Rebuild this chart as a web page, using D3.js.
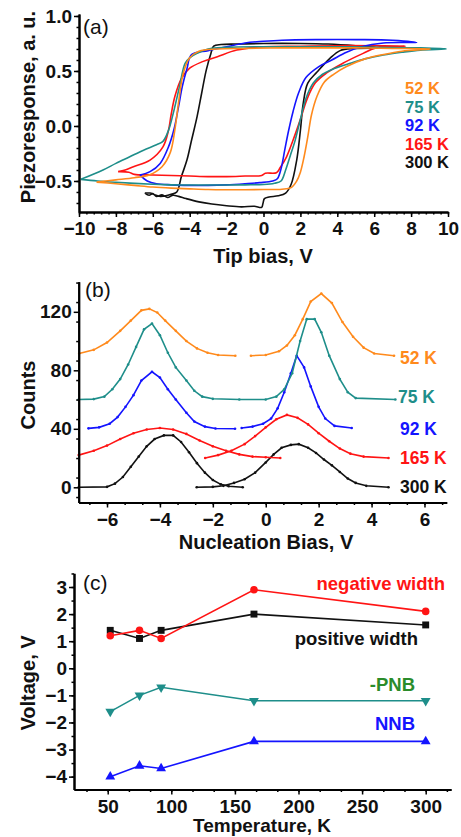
<!DOCTYPE html>
<html>
<head>
<meta charset="utf-8">
<script src="https://cdn.jsdelivr.net/npm/d3@7"></script>
<style>
body { margin: 0; background: #fff; }
text { font-family: "Liberation Sans", Arial, sans-serif; }
</style>
</head>
<body>
<div id="canvas"></div>
<script>
// ---- panel (a): hysteresis loops, [bias V, piezoresponse], sweep up then back ----
var loop52 = [[-9.05,-0.51],[-8,-0.525],[-7,-0.54],[-6,-0.555],[-5,-0.565],[-4,-0.572],[-3,-0.578],[-2,-0.58],[-1,-0.58],[0,-0.578],[1,-0.575],[1.5,-0.56],[1.8,-0.5],[2.0,-0.42],[2.2,-0.28],[2.4,-0.1],[2.6,0.1],[2.9,0.27],[3.3,0.4],[3.8,0.47],[4.5,0.54],[5.5,0.61],[6.5,0.65],[7.5,0.68],[9.05,0.70],
  [7,0.705],[5,0.71],[3,0.71],[1,0.71],[-1,0.705],[-2.5,0.70],[-3.5,0.68],[-4.0,0.62],[-4.35,0.48],[-4.6,0.22],[-4.8,-0.03],[-5.05,-0.24],[-5.5,-0.37],[-6.2,-0.445],[-7,-0.47],[-8,-0.49],[-9.05,-0.51]];
var loop75 = [[-9.9,-0.485],[-9,-0.5],[-8,-0.512],[-7,-0.522],[-6,-0.53],[-5,-0.535],[-4,-0.537],[-3,-0.537],[-2,-0.537],[-1,-0.535],[0,-0.532],[0.6,-0.52],[0.95,-0.5],[1.2,-0.4],[1.45,-0.27],[1.7,-0.14],[2.0,0.06],[2.3,0.25],[2.7,0.39],[3.2,0.47],[3.8,0.52],[4.7,0.57],[5.5,0.61],[6.5,0.645],[7.5,0.67],[8.5,0.69],[9.9,0.70],
  [8.5,0.71],[6,0.715],[4,0.72],[2,0.72],[0,0.72],[-2,0.715],[-3,0.7],[-3.6,0.66],[-4.0,0.62],[-4.25,0.57],[-4.55,0.36],[-4.9,0.11],[-5.15,-0.04],[-5.45,-0.14],[-5.8,-0.17],[-6.5,-0.22],[-7.25,-0.28],[-8,-0.34],[-8.7,-0.4],[-9.9,-0.485]];
var loop92 = [[-6.7,-0.445],[-6.3,-0.5],[-5.8,-0.525],[-5,-0.535],[-4,-0.54],[-3,-0.54],[-2,-0.535],[-1,-0.525],[-0.2,-0.515],[0.5,-0.5],[0.75,-0.48],[0.95,-0.39],[1.15,-0.22],[1.35,-0.05],[1.6,0.13],[1.9,0.3],[2.3,0.44],[3.0,0.54],[3.7,0.6],[4.5,0.67],[5.3,0.72],[6.5,0.755],[8.3,0.76],
  [7,0.78],[5,0.785],[3,0.785],[1,0.78],[0,0.77],[-1,0.755],[-2,0.72],[-3,0.685],[-3.9,0.65],[-4.15,0.52],[-4.4,0.36],[-4.6,0.18],[-4.85,-0.03],[-5.15,-0.19],[-5.6,-0.34],[-6.15,-0.415],[-6.7,-0.445]];
var loop165 = [[-7.88,-0.415],[-7.3,-0.42],[-7.0,-0.44],[-6,-0.445],[-5,-0.45],[-4,-0.455],[-3,-0.46],[-2,-0.46],[-1,-0.455],[-0.1,-0.45],[0.1,-0.43],[0.7,-0.425],[0.9,-0.38],[1.25,-0.28],[1.6,-0.13],[2.0,0.06],[2.35,0.24],[2.8,0.39],[3.4,0.48],[4.3,0.57],[5.4,0.66],[6.1,0.71],[7.68,0.727],
  [6,0.73],[4,0.73],[2,0.725],[0,0.72],[-1.45,0.69],[-2.5,0.63],[-3.3,0.585],[-4.0,0.525],[-4.45,0.43],[-4.8,0.27],[-5.0,0.11],[-5.15,-0.04],[-5.45,-0.19],[-6.15,-0.31],[-7.05,-0.37],[-7.5,-0.4],[-7.88,-0.415]];
var loop300 = [[-6.43,-0.61],[-6.2,-0.63],[-6.0,-0.615],[-5.8,-0.64],[-5.5,-0.625],[-5.2,-0.65],[-4.9,-0.63],[-4.6,-0.64],[-4.2,-0.66],[-3.5,-0.69],[-2.8,-0.71],[-2,-0.725],[-1.2,-0.735],[-0.5,-0.73],[-0.1,-0.74],[-0.03,-0.705],[0.05,-0.66],[0.3,-0.645],[0.8,-0.635],[1.2,-0.61],[1.5,-0.53],[1.8,-0.31],[2.0,-0.04],[2.15,0.2],[2.4,0.39],[2.9,0.49],[3.6,0.615],[4.15,0.685],[4.9,0.705],[6.4,0.71],
  [5,0.73],[3.5,0.745],[2,0.75],[0,0.75],[-1.5,0.745],[-2.3,0.74],[-2.7,0.725],[-2.85,0.66],[-3.1,0.51],[-3.35,0.3],[-3.6,0.085],[-3.9,-0.13],[-4.15,-0.31],[-4.45,-0.46],[-4.7,-0.6],[-5.0,-0.62],[-5.3,-0.635],[-5.6,-0.64],[-5.9,-0.625],[-6.15,-0.61],[-6.43,-0.61]];

// ---- panel (b): nucleation bias histograms, [bias V, counts] ----
var hist52Neg = [[-7.05,91.5],[-6.5,94],[-6.0,99],[-5.5,107],[-5.1,114],[-4.7,121],[-4.4,122],[-4.1,119.5],[-3.8,114],[-3.4,107],[-3.0,100],[-2.6,95],[-2.2,92],[-1.8,90.5],[-1.15,90]];
var hist52Pos = [[-0.56,90],[0.0,90.5],[0.5,93],[0.8,97],[1.1,104],[1.4,115],[1.7,127],[2.1,132.5],[2.5,126],[2.9,113],[3.3,103],[3.7,95.5],[4.1,91.5],[4.85,90]];
var hist75 = [[-7.07,60],[-6.5,60.3],[-6.1,62],[-5.8,67],[-5.5,74],[-5.2,84],[-4.9,96],[-4.6,108],[-4.3,112],[-4.0,104],[-3.7,92],[-3.4,82],[-3.0,73],[-2.7,66],[-2.4,62],[-2.0,60.5],[-1.0,60],[0.0,60],[0.4,62],[0.7,67],[1.0,78],[1.3,100],[1.55,115],[1.85,115],[2.1,106],[2.4,90],[2.8,74],[3.1,65],[3.4,61],[4.9,60]];
var hist92Neg = [[-6.7,40.3],[-6.3,41],[-5.9,43.5],[-5.6,48],[-5.3,55],[-5.0,63],[-4.7,73],[-4.3,79],[-4.0,75],[-3.7,67],[-3.4,60],[-3.0,51],[-2.7,45],[-2.3,41.5],[-1.9,40.2],[-1.16,40]];
var hist92Pos = [[-0.91,40.5],[-0.5,41.5],[-0.1,43.5],[0.2,47],[0.45,54],[0.7,65],[0.95,78],[1.17,90],[1.45,82],[1.7,69],[2.0,55],[2.25,47],[2.6,42],[3.25,40.5]];
var hist165Neg = [[-7.07,22],[-6.5,25],[-6.0,28.5],[-5.5,33],[-5.0,37],[-4.5,39.5],[-4.0,40.5],[-3.5,39.5],[-3.0,36.5],[-2.5,32],[-2.0,28],[-1.5,25],[-1.0,22.5],[-0.5,21],[0.0,20.5],[0.55,20]];
var hist165Pos = [[-2.29,20],[-1.8,22],[-1.3,25],[-0.8,29.5],[-0.4,35],[0.0,41],[0.4,46.5],[0.8,49.5],[1.2,47.5],[1.6,43],[2.0,37],[2.4,31.5],[2.8,26.5],[3.2,23],[3.7,21],[4.64,20]];
var hist300Neg = [[-7.07,0],[-6.0,0.3],[-5.7,2.5],[-5.4,7],[-5.1,14],[-4.8,21],[-4.5,28],[-4.2,33],[-3.85,35.5],[-3.5,35.5],[-3.2,31],[-2.9,24],[-2.6,16.5],[-2.3,10],[-2.0,5],[-1.7,2],[-1.4,0.7],[-0.87,0]];
var hist300Pos = [[-2.61,0],[-2.0,0.3],[-1.6,1],[-1.2,3],[-0.8,5.5],[-0.4,10],[0.0,17],[0.3,22.5],[0.6,27],[0.95,29],[1.25,29.5],[1.6,27],[1.9,23.5],[2.2,19],[2.5,15],[2.8,10.5],[3.1,6],[3.4,3],[3.8,1],[4.64,0]];

// ---- panel (c): widths and nucleation biases vs temperature ----
var temps = [52, 75, 92, 165, 300];
var negWidth = [1.2, 1.4, 1.1, 2.9, 2.1];
var posWidth = [1.4, 1.1, 1.4, 2.0, 1.6];
var negPNB = [-1.6, -1.0, -0.7, -1.2, -1.2];
var nnb = [-4.0, -3.6, -3.7, -2.7, -2.7];

var tempLabels = ["52 K", "75 K", "92 K", "165 K", "300 K"];
var tempColors = ["#ff8a1c", "#1e8e8a", "#1414ff", "#ff1414", "#111111"];

var FONT = "'Liberation Sans', Arial, sans-serif";

function AddAxes(svg, x, y, xMajor, xMinor, yMajor, yMinor, xFmt, yFmt) {
    var y0 = y.range()[0], x0 = x.range()[0];
    var gx = svg.append("g").attr("transform", "translate(0," + y0 + ")");
    gx.call(d3.axisBottom(x).tickValues(xMinor).tickSize(2.5).tickSizeOuter(0).tickFormat(""));
    gx.append("g").call(d3.axisBottom(x).tickValues(xMajor).tickSize(5).tickSizeOuter(0)
        .tickPadding(5).tickFormat(xFmt));
    var gy = svg.append("g").attr("transform", "translate(" + x0 + ",0)");
    gy.call(d3.axisLeft(y).tickValues(yMinor).tickSize(2.5).tickSizeOuter(0).tickFormat(""));
    gy.append("g").call(d3.axisLeft(y).tickValues(yMajor).tickSize(5).tickSizeOuter(0)
        .tickPadding(2).tickFormat(yFmt));
    svg.selectAll(".domain").attr("stroke", "#000").attr("stroke-width", 2);
    svg.selectAll(".tick line").attr("stroke", "#000").attr("stroke-width", 1.5);
    svg.selectAll(".tick text")
        .attr("font-family", FONT)
        .attr("font-size", 19)
        .attr("font-weight", "bold")
        .attr("fill", "#111");
}

function AddText(svg, x, y, text, opts) {
    opts = opts || {};
    var t = svg.append("text")
        .attr("x", x)
        .attr("y", y)
        .attr("font-family", FONT)
        .attr("font-size", opts.size || 19)
        .attr("font-weight", opts.weight || "bold")
        .attr("text-anchor", opts.anchor || "start")
        .attr("fill", opts.color || "#111")
        .text(text);
    if (opts.rotate) t.attr("transform", "rotate(-90," + x + "," + y + ")");
    return t;
}

function range(a, b, step) {
    var out = [];
    for (var i = 0; a + i * step <= b + 1e-9; i++) out.push(+(a + i * step).toFixed(4));
    return out;
}

function init() {
    var svg = d3.select("#canvas").append("svg")
        .attr("width", 461)
        .attr("height", 837);

    // ---------- (a) ----------
    var xa = d3.scaleLinear().domain([-10, 10]).range([79, 448]);
    var ya = d3.scaleLinear().domain([-0.782, 1.018]).range([212, 14]);
    var lineA = d3.line().x(function(d) { return xa(d[0]); }).y(function(d) { return ya(d[1]); })
        .curve(d3.curveCatmullRom.alpha(0.5));
    var loops = [loop300, loop165, loop92, loop75, loop52];
    var loopCols = [tempColors[4], tempColors[3], tempColors[2], tempColors[1], tempColors[0]];
    loops.forEach(function(l, i) {
        svg.append("path").attr("d", lineA(l))
            .attr("fill", "none")
            .attr("stroke", loopCols[i])
            .attr("stroke-width", 1.6);
    });
    AddAxes(svg, xa, ya, range(-10, 10, 2), range(-10, 10, 0.4),
        [-0.5, 0, 0.5, 1.0], range(-0.7, 1.0, 0.1),
        d3.format("d"), d3.format(".1f"));
    AddText(svg, 83, 34, "(a)", {size: 21, weight: "normal"});
    AddText(svg, 263, 263, "Tip bias, V", {anchor: "middle", size: 20});
    AddText(svg, 35, 107, "Piezoresponse, a. u.", {anchor: "middle", size: 20, rotate: true});
    var legA = [88, 106.5, 125, 143.5, 162];
    tempLabels.forEach(function(t, i) {
        AddText(svg, 405, legA[i] + 6, t, {color: tempColors[i], size: 16.5});
    });

    // ---------- (b) ----------
    var xb = d3.scaleLinear().domain([-7.07, 6.84]).range([78.7, 446.7]);
    var yb = d3.scaleLinear().domain([-10.4, 140.6]).range([502.5, 281.7]);
    var lineB = d3.line().x(function(d) { return xb(d[0]); }).y(function(d) { return yb(d[1]); });
    var hists = [[hist300Neg, 4], [hist300Pos, 4], [hist165Neg, 3], [hist165Pos, 3],
        [hist92Neg, 2], [hist92Pos, 2], [hist75, 1], [hist52Neg, 0], [hist52Pos, 0]];
    hists.forEach(function(h) {
        var c = tempColors[h[1]];
        svg.append("path").attr("d", lineB(h[0]))
            .attr("fill", "none").attr("stroke", c).attr("stroke-width", 1.6);
        svg.append("g").selectAll("circle").data(h[0]).enter().append("circle")
            .attr("cx", function(d) { return xb(d[0]); })
            .attr("cy", function(d) { return yb(d[1]); })
            .attr("r", 1.3)
            .attr("fill", c);
    });
    AddAxes(svg, xb, yb, range(-6, 6, 2), range(-6.6667, 6.7, 2 / 3),
        [0, 40, 80, 120], range(-6.6667, 140, 40 / 3),
        d3.format("d"), d3.format("d"));
    AddText(svg, 85, 297, "(b)", {size: 21, weight: "normal"});
    AddText(svg, 266, 548.5, "Nucleation Bias, V", {anchor: "middle", size: 20});
    AddText(svg, 35, 395, "Counts", {anchor: "middle", size: 20, rotate: true});
    var legB = [358.3, 397.3, 429, 458.3, 487.3];
    var legBx = [400, 398, 400, 400, 400];
    tempLabels.forEach(function(t, i) {
        AddText(svg, legBx[i], legB[i] + 6, t, {color: tempColors[i], size: 17.5});
    });

    // ---------- (c) ----------
    var xc = d3.scaleLinear().domain([23.5, 319.9]).range([74, 451]);
    var yc = d3.scaleLinear().domain([-4.475, 3.506]).range([789.5, 573.3]);
    var series = [
        {vals: posWidth, color: "#111111", sym: d3.symbolSquare, size: 48, rot: 0},
        {vals: negWidth, color: "#ff1414", sym: d3.symbolCircle, size: 45, rot: 0},
        {vals: negPNB, color: "#1e8e8a", sym: d3.symbolTriangle, size: 42, rot: 180},
        {vals: nnb, color: "#1414ff", sym: d3.symbolTriangle, size: 42, rot: 0}
    ];
    series.forEach(function(s) {
        var pts = temps.map(function(t, i) { return [t, s.vals[i]]; });
        svg.append("path")
            .attr("d", d3.line().x(function(d) { return xc(d[0]); }).y(function(d) { return yc(d[1]); })(pts))
            .attr("fill", "none").attr("stroke", s.color).attr("stroke-width", 1.6);
        svg.append("g").selectAll("path").data(pts).enter().append("path")
            .attr("d", d3.symbol().type(s.sym).size(s.size))
            .attr("transform", function(d) {
                return "translate(" + xc(d[0]) + "," + yc(d[1]) + ") rotate(" + s.rot + ")";
            })
            .attr("fill", s.color);
    });
    AddAxes(svg, xc, yc, range(50, 300, 50), range(33.3333, 318, 50 / 3),
        range(-4, 3, 1), range(-4, 3.5, 0.5),
        d3.format("d"), d3.format("d"));
    AddText(svg, 83, 590, "(c)", {size: 21, weight: "normal"});
    AddText(svg, 262, 832, "Temperature, K", {anchor: "middle", size: 19});
    AddText(svg, 35, 683, "Voltage, V", {anchor: "middle", size: 20, rotate: true});
    AddText(svg, 445, 589.5, "negative width", {anchor: "end", color: "#ff1414", size: 18.5});
    AddText(svg, 418, 644.5, "positive width", {anchor: "end", color: "#111111", size: 18.5});
    AddText(svg, 415, 691, "-PNB", {anchor: "end", color: "#2a8c2a", size: 18.5});
    AddText(svg, 415, 729.5, "NNB", {anchor: "end", color: "#1414ff", size: 18.5});
}
window.onload = init;
</script>
</body>
</html>
